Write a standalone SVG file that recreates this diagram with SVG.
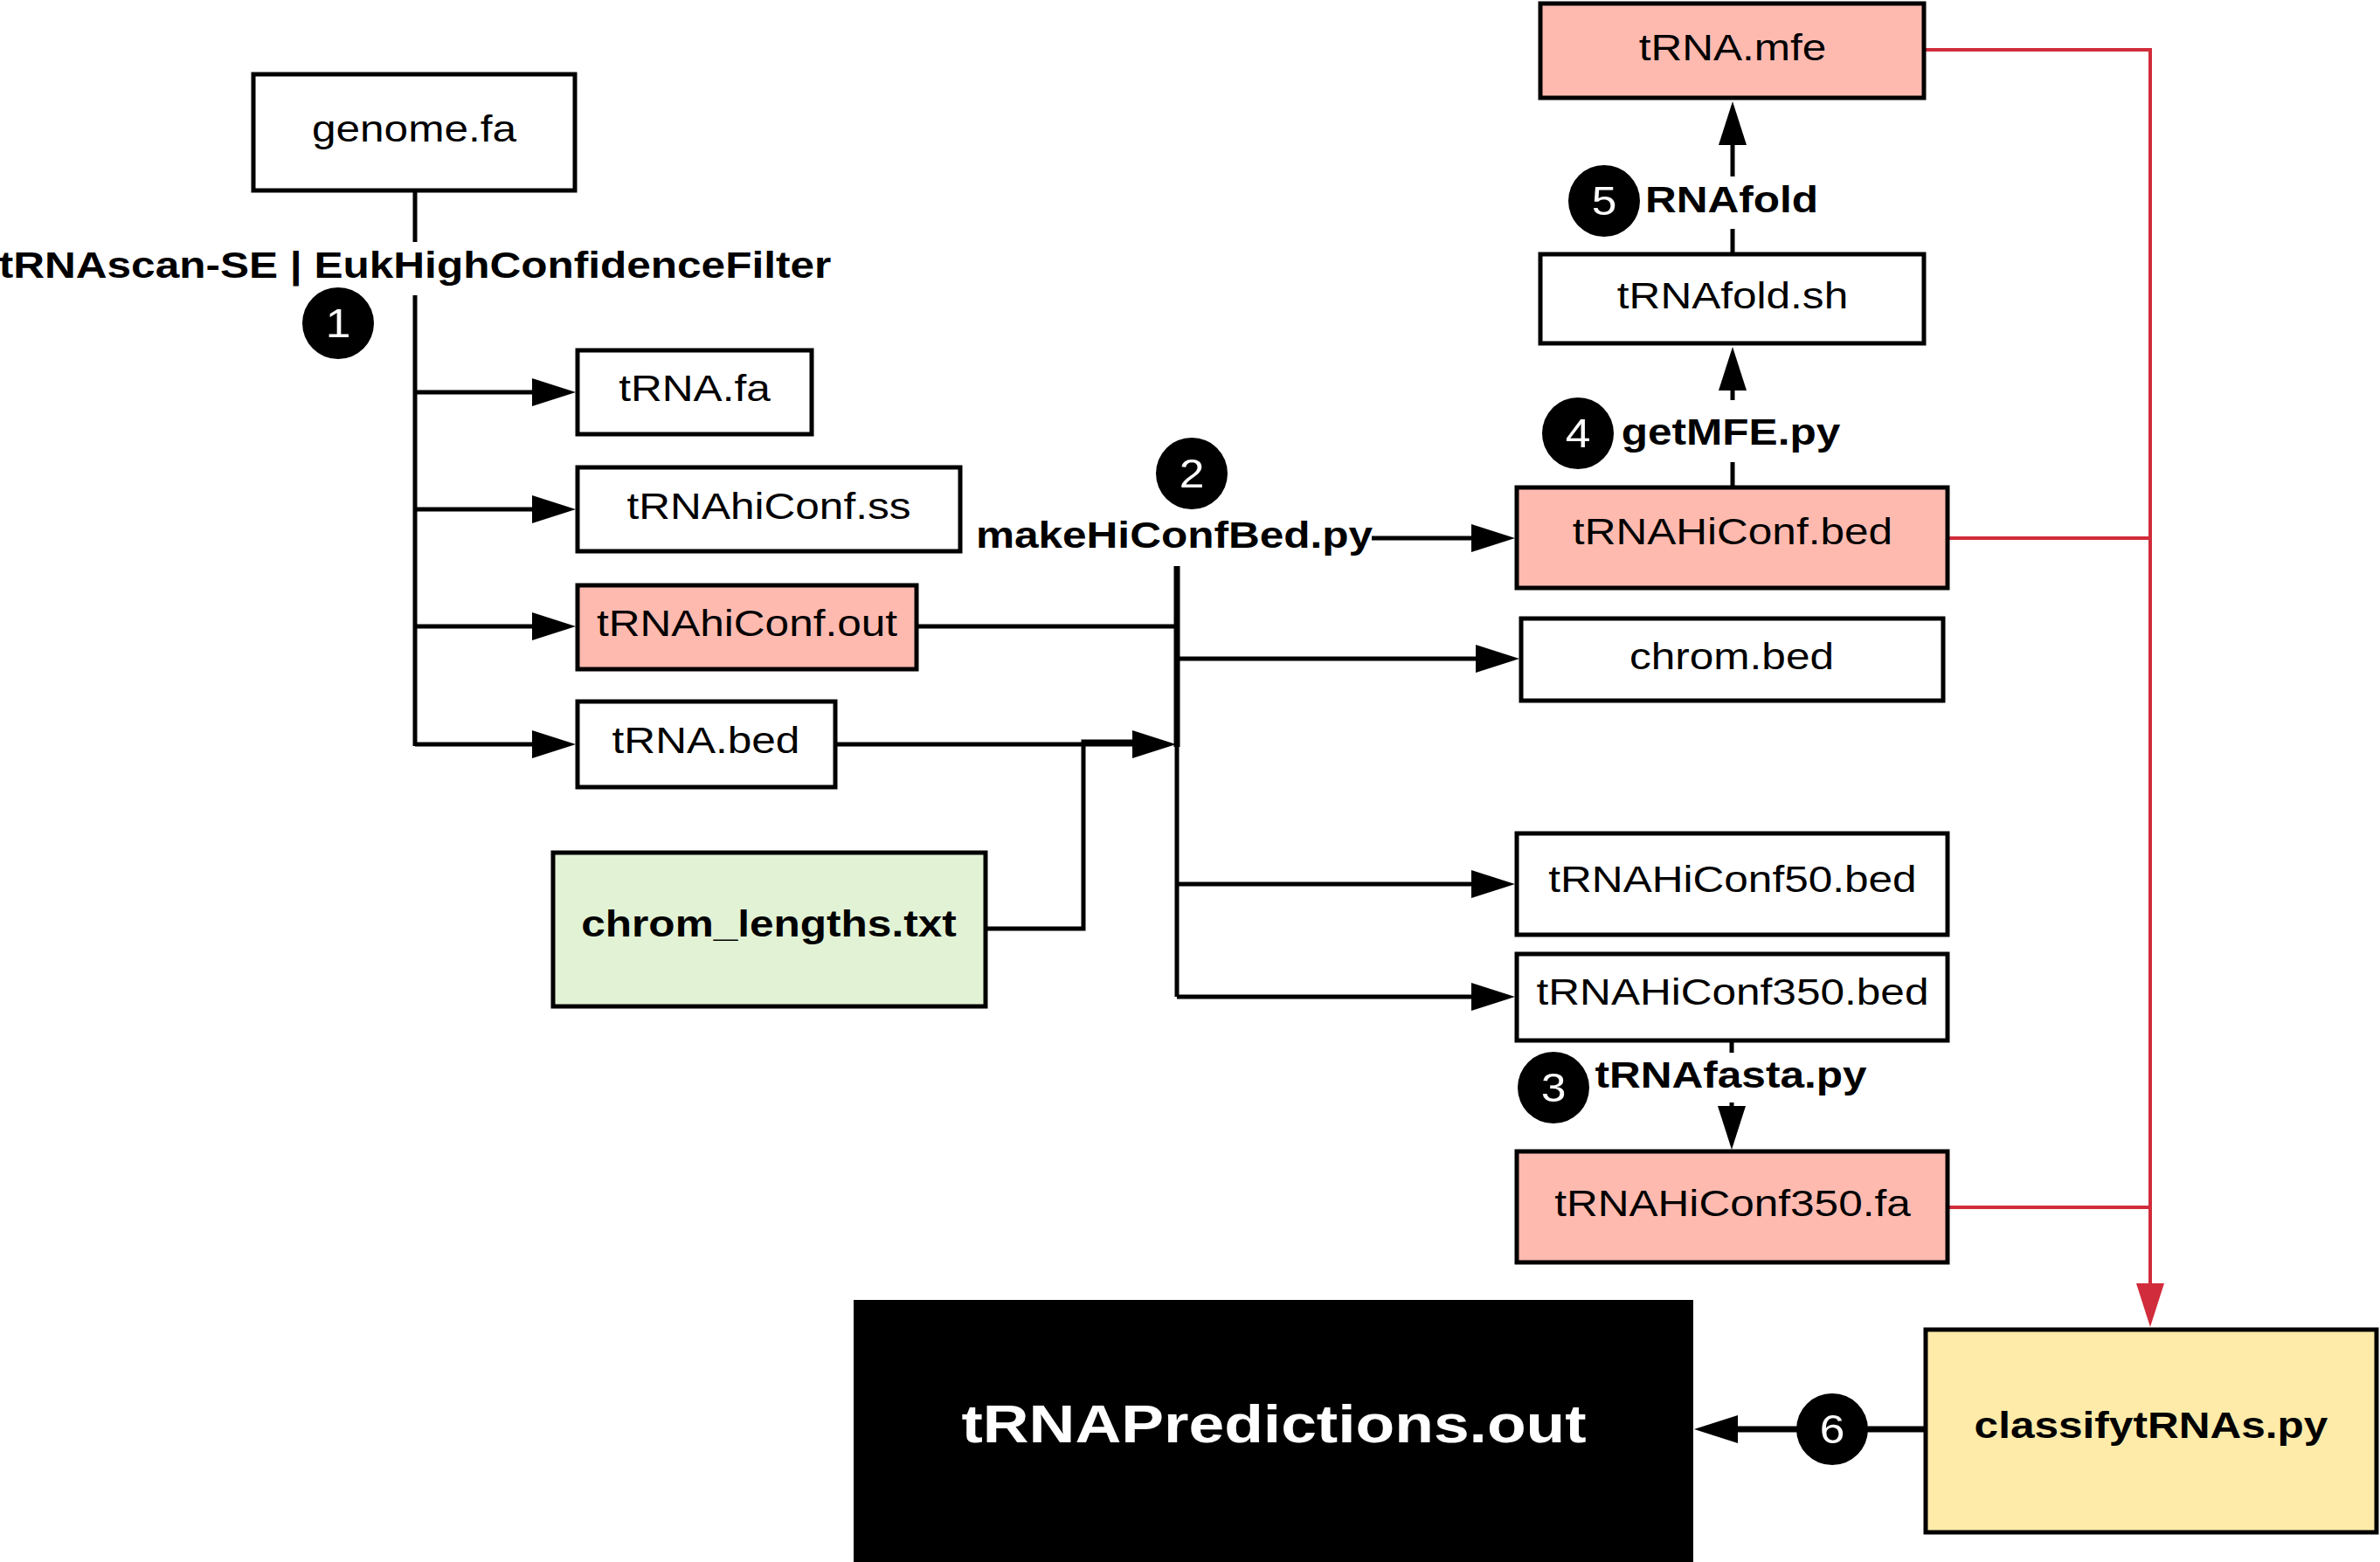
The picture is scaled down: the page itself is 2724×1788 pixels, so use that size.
<svg xmlns="http://www.w3.org/2000/svg" width="2724" height="1788" viewBox="0 0 2724 1788">
<defs>
<style>
.box{stroke:#000;stroke-width:5;fill:#fff}
.pink{fill:#ffbab0}
.green{fill:#e2f2d5}
.yellow{fill:#ffeba9}
.t{font-family:"Liberation Sans",Arial,sans-serif;font-size:42px;text-anchor:middle;fill:#000}
.b{font-weight:bold}
.num{font-family:"Liberation Sans",Arial,sans-serif;font-size:46px;text-anchor:middle;fill:#fff}
.ln{fill:none;stroke:#000;stroke-width:5}
.red{fill:none;stroke:#d12c3b;stroke-width:4}
</style>
<marker id="ah" viewBox="0 0 50 32" markerWidth="50" markerHeight="32" refX="0" refY="16" orient="auto" markerUnits="userSpaceOnUse"><path d="M0,0 L50,16 L0,32 z" fill="#000"/></marker>
<marker id="ahr" viewBox="0 0 50 32" markerWidth="50" markerHeight="32" refX="0" refY="16" orient="auto" markerUnits="userSpaceOnUse"><path d="M0,0 L50,16 L0,32 z" fill="#d12c3b"/></marker>
</defs>
<rect width="2724" height="1788" fill="#fff"/>

<g id="connectors">
<path class="ln" d="M475,220 V277"/>
<path class="ln" d="M475,338 V854"/>
<path class="ln" d="M475,449 H609" marker-end="url(#ah)"/>
<path class="ln" d="M475,583 H609" marker-end="url(#ah)"/>
<path class="ln" d="M475,717 H609" marker-end="url(#ah)"/>
<path class="ln" d="M475,852 H609" marker-end="url(#ah)"/>
<path class="ln" d="M1051,717 H1347"/>
<path class="ln" d="M1130,1063 H1240 V849 H1296"/>
<path class="ln" d="M958,852 H1296" marker-end="url(#ah)"/>
<path class="ln" style="stroke-width:7" d="M1347,648 V855"/>
<path class="ln" d="M1347,852 V1141"/>
<path class="ln" d="M1347,754 H1689" marker-end="url(#ah)"/>
<path class="ln" d="M1347,1012 H1684" marker-end="url(#ah)"/>
<path class="ln" d="M1347,1141 H1684" marker-end="url(#ah)"/>
<path class="ln" d="M1570,616 H1684" marker-end="url(#ah)"/>
<path class="ln" d="M1983,556 V529"/>
<path class="ln" d="M1983,458 V447" marker-end="url(#ah)"/>
<path class="ln" d="M1983,289 V262"/>
<path class="ln" d="M1983,202 V166" marker-end="url(#ah)"/>
<path class="ln" d="M1982,1193 V1205"/>
<path class="ln" d="M1982,1262 V1266" marker-end="url(#ah)"/>
<path class="ln" style="stroke-width:7" d="M2202,1636 H1989" marker-end="url(#ah)"/>
<path class="red" d="M2204,57 H2461 V1469" marker-end="url(#ahr)"/>
<path class="red" d="M2231,616 H2461"/>
<path class="red" d="M2231,1382 H2461"/>

<text class="t b" transform="translate(475 318) scale(1.18 1)">tRNAscan-SE | EukHighConfidenceFilter</text>
<text class="t b" transform="translate(1344 627) scale(1.18 1)">makeHiConfBed.py</text>
<text class="t b" transform="translate(1981 509) scale(1.18 1)">getMFE.py</text>
<text class="t b" transform="translate(1982 243) scale(1.18 1)">RNAfold</text>
<text class="t b" transform="translate(1981 1245) scale(1.18 1)">tRNAfasta.py</text>

<g id="step1"><circle cx="387" cy="370" r="41"/><text class="num" transform="translate(387 386) scale(1.12 1)">1</text></g>
<g id="step2"><circle cx="1364" cy="542" r="41"/><text class="num" transform="translate(1364 558) scale(1.12 1)">2</text></g>
<g id="step3"><circle cx="1778" cy="1245" r="41"/><text class="num" transform="translate(1778 1261) scale(1.12 1)">3</text></g>
<g id="step4"><circle cx="1806" cy="496" r="41"/><text class="num" transform="translate(1806 512) scale(1.12 1)">4</text></g>
<g id="step5"><circle cx="1836" cy="230" r="41"/><text class="num" transform="translate(1836 246) scale(1.12 1)">5</text></g>
<g id="step6"><circle cx="2097" cy="1636" r="41"/><text class="num" transform="translate(2097 1652) scale(1.12 1)">6</text></g>
</g>

<g id="genome"><rect class="box" x="290" y="85" width="368" height="133"/><text class="t" transform="translate(474 162) scale(1.18 1)">genome.fa</text></g>
<g id="trna-fa"><rect class="box" x="661" y="401" width="268" height="96"/><text class="t" transform="translate(795 459) scale(1.18 1)">tRNA.fa</text></g>
<g id="trna-ss"><rect class="box" x="661" y="535" width="438" height="96"/><text class="t" transform="translate(880 594) scale(1.18 1)">tRNAhiConf.ss</text></g>
<g id="trna-out"><rect class="box pink" x="661" y="670" width="388" height="96"/><text class="t" transform="translate(855 728) scale(1.18 1)">tRNAhiConf.out</text></g>
<g id="trna-bed"><rect class="box" x="661" y="803" width="295" height="98"/><text class="t" transform="translate(808 862) scale(1.18 1)">tRNA.bed</text></g>
<g id="chrom-lengths"><rect class="box green" x="633" y="976" width="495" height="176"/><text class="t b" transform="translate(880 1072) scale(1.18 1)">chrom_lengths.txt</text></g>
<g id="hiconf-bed"><rect class="box pink" x="1736" y="558" width="493" height="115"/><text class="t" transform="translate(1983 623) scale(1.18 1)">tRNAHiConf.bed</text></g>
<g id="chrom-bed"><rect class="box" x="1741" y="708" width="483" height="94"/><text class="t" transform="translate(1982 766) scale(1.18 1)">chrom.bed</text></g>
<g id="hiconf50"><rect class="box" x="1736" y="954" width="493" height="116"/><text class="t" transform="translate(1983 1021) scale(1.18 1)">tRNAHiConf50.bed</text></g>
<g id="hiconf350"><rect class="box" x="1736" y="1092" width="493" height="99"/><text class="t" transform="translate(1983 1150) scale(1.18 1)">tRNAHiConf350.bed</text></g>
<g id="hiconf350-fa"><rect class="box pink" x="1736" y="1318" width="493" height="127"/><text class="t" transform="translate(1983 1392) scale(1.18 1)">tRNAHiConf350.fa</text></g>
<g id="trna-mfe"><rect class="box pink" x="1763" y="4" width="439" height="108"/><text class="t" transform="translate(1983 69) scale(1.18 1)">tRNA.mfe</text></g>
<g id="trnafold"><rect class="box" x="1763" y="291" width="439" height="102"/><text class="t" transform="translate(1983 353) scale(1.18 1)">tRNAfold.sh</text></g>
<g id="classify"><rect class="box yellow" x="2204" y="1522" width="516" height="232"/><text class="t b" transform="translate(2462 1646) scale(1.18 1)">classifytRNAs.py</text></g>
<g id="predictions"><rect x="977" y="1488" width="961" height="300" fill="#000"/><text class="t b" style="font-size:62px;fill:#fff" transform="translate(1458 1651) scale(1.18 1)">tRNAPredictions.out</text></g>
</svg>
